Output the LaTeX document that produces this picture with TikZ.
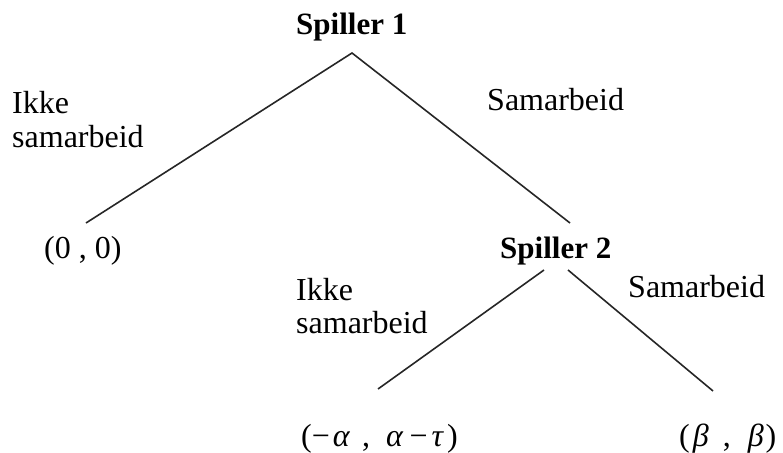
\documentclass[tikz,border=0pt]{standalone}
\usepackage{fontspec}
\setmainfont{Liberation Serif}
\begin{document}
\begin{tikzpicture}[x=1pt,y=-1pt,
  lbl/.style={anchor=base west,inner sep=0pt,font=\fontsize{32}{35}\selectfont},
  player/.style={lbl,font=\fontsize{31}{35}\selectfont\bfseries},
  branch/.style={line width=1.6pt,black!85}]
\useasboundingbox (0,0) rectangle (783,452);
% decision points and branch ends
\coordinate (root) at (352,53);
\coordinate (leafA) at (86,223);
\coordinate (p2top) at (570,223);
\coordinate (p2l) at (544,270);
\coordinate (p2r) at (568,270);
\coordinate (leafB) at (378,389);
\coordinate (leafC) at (713,391);
% player labels
\node[player] (s1) at (296,35) {Spiller 1};
\node[player] (s2) at (500,258) {Spiller 2};
% action labels
\node[lbl] (a1) at (12,113) {Ikke};
\node[lbl] (a2) at (12,147) {samarbeid};
\node[lbl] (b1) at (487,110) {Samarbeid};
\node[lbl] (c1) at (296,300) {Ikke};
\node[lbl] (c2) at (296,333) {samarbeid};
\node[lbl] (d1) at (628,297) {Samarbeid};
% payoffs
\node[lbl] (pA) at (44,258) {(0 , 0)};
\node[lbl] (pB) at (301,446) {(−\hspace{3pt}\textit{α}\hspace{12pt},\hspace{16pt}\textit{α}\hspace{6pt}−\hspace{4pt}\textit{τ}\hspace{3pt})};
\node[lbl] (pC) at (679,446) {(\hspace{3pt}\textit{β}\hspace{14pt},\hspace{17pt}\textit{β}\hspace{2pt})};
% branches
\draw[branch] (leafA) -- (root) -- (p2top);
\draw[branch] (p2l) -- (leafB);
\draw[branch] (p2r) -- (leafC);
\end{tikzpicture}
\end{document}
